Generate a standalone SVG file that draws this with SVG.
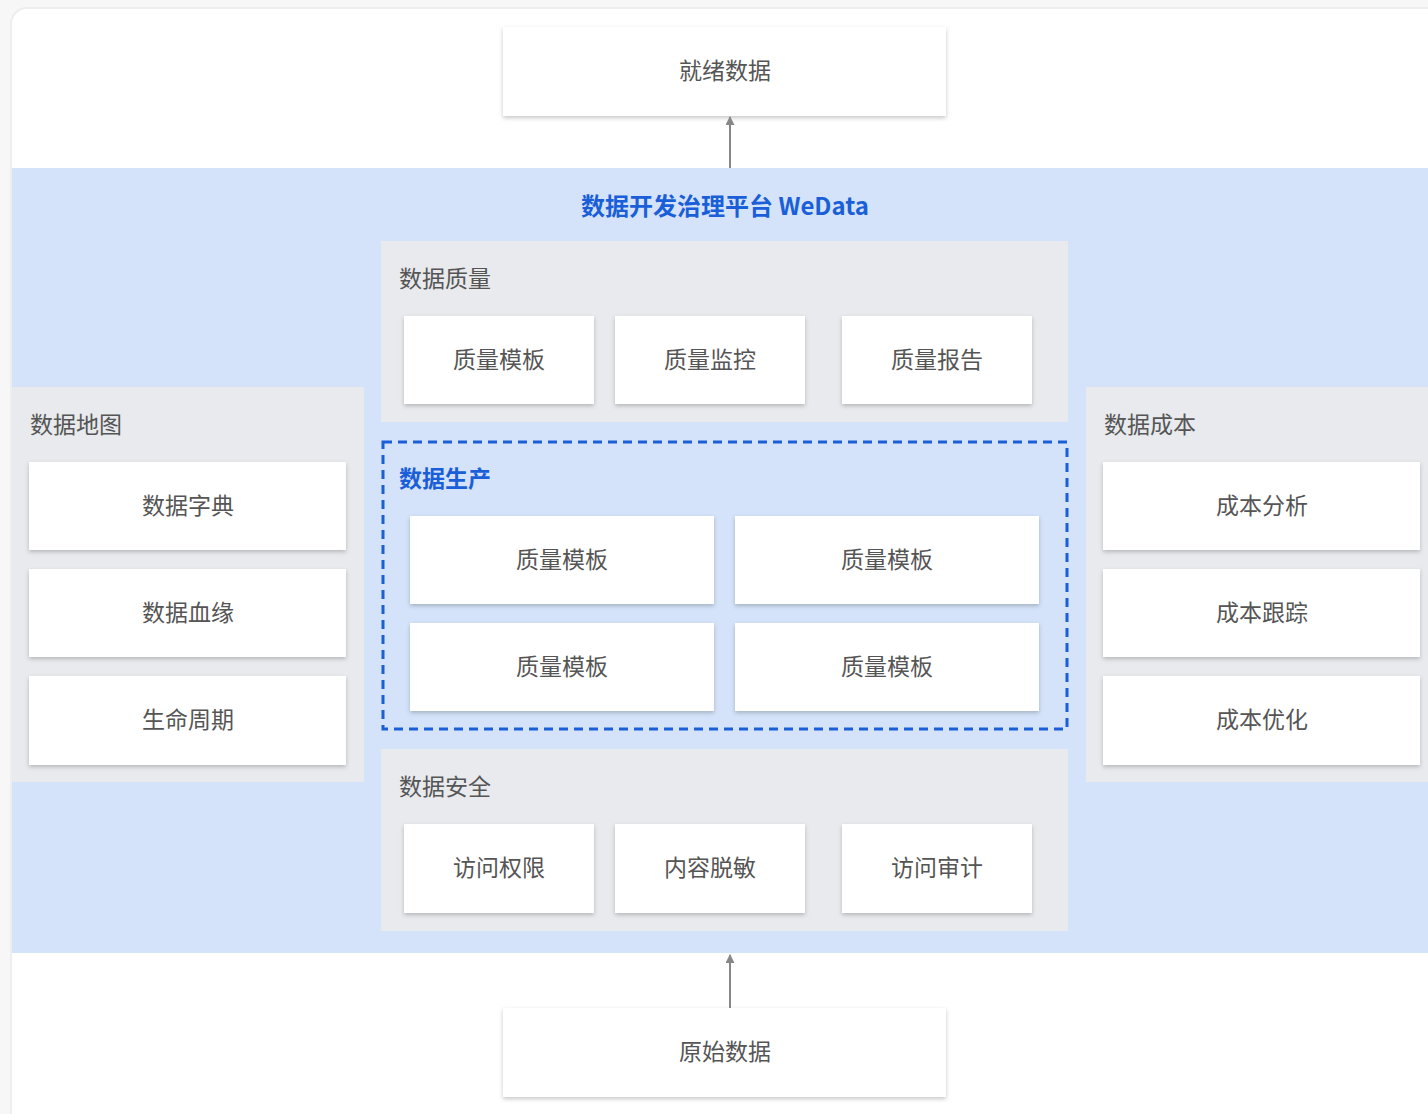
<svg xmlns="http://www.w3.org/2000/svg" width="1428" height="1114" viewBox="0 0 1428 1114">
<defs>
<filter id="sh" x="-10%" y="-10%" width="120%" height="130%">
<feDropShadow dx="0" dy="2" stdDeviation="2" flood-color="#000" flood-opacity="0.22"/>
</filter>
<marker id="ah" viewBox="0 0 10 10" refX="9" refY="5" markerWidth="10" markerHeight="9" markerUnits="userSpaceOnUse" orient="auto">
<path d="M0,0 L10,5 L0,10 z" fill="#888"/>
</marker>
<style>
.box{fill:#fff;filter:url(#sh)}
.panel{fill:#e8eaed}
.t{font-family:"Noto Sans CJK SC","Noto Sans",sans-serif;font-size:23px;fill:#555;text-anchor:middle;dominant-baseline:central}
.lbl{font-family:"Noto Sans CJK SC","Noto Sans",sans-serif;font-size:23px;fill:#555;dominant-baseline:central}
.blue{fill:#1a5fd8;font-weight:bold}
.conn{stroke:#888;stroke-width:2;fill:none}
</style>
</defs>
<rect x="0" y="0" width="1428" height="1114" fill="#f7f7f7"/>
<rect x="11" y="8" width="1440" height="1130" rx="16" fill="#fff" stroke="#eeeeee" stroke-width="2"/>
<rect x="12" y="168" width="1416" height="785" fill="#d4e3fa"/>
<text x="725" y="204" class="lbl blue" style="text-anchor:middle;font-size:24px">数据开发治理平台 WeData</text>

<g id="ready">
<rect x="503" y="27" width="443" height="89" class="box"/>
<text x="725" y="69" class="t">就绪数据</text>
</g>
<g id="raw">
<rect x="503" y="1008" width="443" height="89" class="box"/>
<text x="725" y="1050" class="t">原始数据</text>
</g>

<g id="quality">
<rect x="381" y="241" width="687" height="181" class="panel"/>
<text x="399" y="277" class="lbl">数据质量</text>
<g id="q1"><rect x="404" y="316" width="190" height="88" class="box"/><text x="499" y="358" class="t">质量模板</text></g>
<g id="q2"><rect x="615" y="316" width="190" height="88" class="box"/><text x="710" y="358" class="t">质量监控</text></g>
<g id="q3"><rect x="842" y="316" width="190" height="88" class="box"/><text x="937" y="358" class="t">质量报告</text></g>
</g>

<g id="production">
<rect x="383" y="442" width="684" height="287" fill="none" stroke="#1a5fd8" stroke-width="3" stroke-dasharray="9 6"/>
<text x="399" y="477" class="lbl blue">数据生产</text>
<g id="p1"><rect x="410" y="516" width="304" height="88" class="box"/><text x="562" y="558" class="t">质量模板</text></g>
<g id="p2"><rect x="735" y="516" width="304" height="88" class="box"/><text x="887" y="558" class="t">质量模板</text></g>
<g id="p3"><rect x="410" y="623" width="304" height="88" class="box"/><text x="562" y="665" class="t">质量模板</text></g>
<g id="p4"><rect x="735" y="623" width="304" height="88" class="box"/><text x="887" y="665" class="t">质量模板</text></g>
</g>

<g id="security">
<rect x="381" y="749" width="687" height="182" class="panel"/>
<text x="399" y="785" class="lbl">数据安全</text>
<g id="s1"><rect x="404" y="824" width="190" height="89" class="box"/><text x="499" y="866" class="t">访问权限</text></g>
<g id="s2"><rect x="615" y="824" width="190" height="89" class="box"/><text x="710" y="866" class="t">内容脱敏</text></g>
<g id="s3"><rect x="842" y="824" width="190" height="89" class="box"/><text x="937" y="866" class="t">访问审计</text></g>
</g>

<g id="datamap">
<rect x="12" y="387" width="352" height="395" class="panel"/>
<text x="30" y="423" class="lbl">数据地图</text>
<g id="m1"><rect x="29" y="462" width="317" height="88" class="box"/><text x="188" y="504" class="t">数据字典</text></g>
<g id="m2"><rect x="29" y="569" width="317" height="88" class="box"/><text x="188" y="611" class="t">数据血缘</text></g>
<g id="m3"><rect x="29" y="676" width="317" height="89" class="box"/><text x="188" y="718" class="t">生命周期</text></g>
</g>

<g id="cost">
<rect x="1086" y="387" width="350" height="395" class="panel"/>
<text x="1104" y="423" class="lbl">数据成本</text>
<g id="c1"><rect x="1103" y="462" width="317" height="88" class="box"/><text x="1262" y="504" class="t">成本分析</text></g>
<g id="c2"><rect x="1103" y="569" width="317" height="88" class="box"/><text x="1262" y="611" class="t">成本跟踪</text></g>
<g id="c3"><rect x="1103" y="676" width="317" height="89" class="box"/><text x="1262" y="718" class="t">成本优化</text></g>
</g>

<g id="connectors">
<line x1="730" y1="168" x2="730" y2="117" class="conn" marker-end="url(#ah)"/>
<line x1="730" y1="1008" x2="730" y2="955" class="conn" marker-end="url(#ah)"/>
</g>
</svg>
